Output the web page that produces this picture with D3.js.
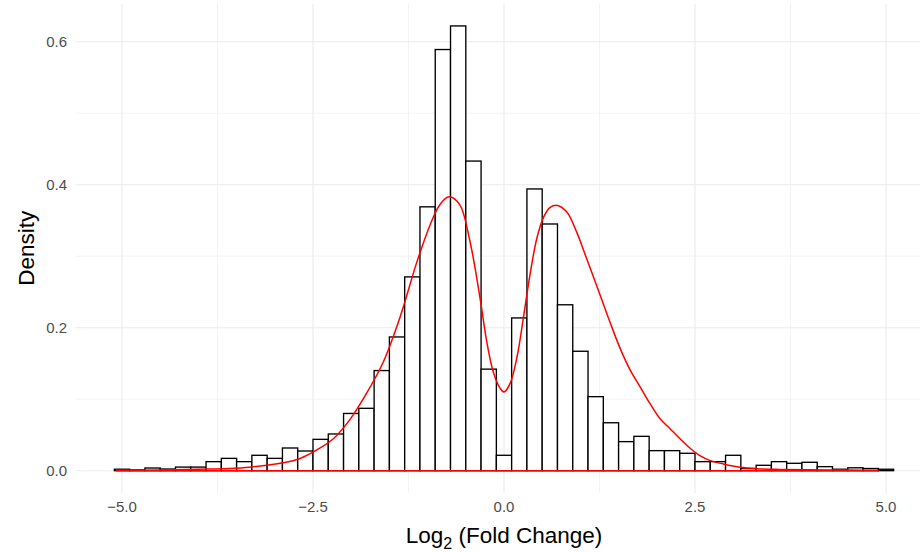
<!DOCTYPE html>
<html lang="en">
<head>
	<meta charset="UTF-8">
	<script src="https://d3js.org/d3.v7.min.js"></script>
	<title>Log2 Fold Change Density</title>
	<style type="text/css">
		body{ margin: 0; background: #fff; }
		text{ font-family: "Liberation Sans", Arial, Helvetica, sans-serif; }
		.grid-major{ stroke: #EBEBEB; stroke-width: 1.07; }
		.grid-minor{ stroke: #EBEBEB; stroke-width: 0.6; }
		.bar{ fill: #fff; stroke: #000; stroke-width: 1.35; }
		.dens{ fill: none; stroke: #FF0000; stroke-width: 1.5; }
		.tick-label{ fill: #4D4D4D; font-size: 15px; }
		.axis-title{ fill: #000; font-size: 22.5px; }
	</style>
</head>
<body onload="main()">
	<svg width="920" height="552"></svg>
</body>
	<script>
	// histogram: bin centres (width 0.2) and density heights
	var binCenters = d3.range(51).map(function(i){ return -5 + i * 0.2; });
	var binWidth = 0.2;
	var binDensity = [
		0.002, 0.001, 0.0037, 0.0023, 0.005, 0.005, 0.0126, 0.0172, 0.0126, 0.0215,
		0.0172, 0.0317, 0.0275, 0.0438, 0.0513, 0.080, 0.0872, 0.140, 0.187, 0.271,
		0.369, 0.589, 0.622, 0.433, 0.142, 0.0215, 0.2136, 0.394, 0.345, 0.232,
		0.167, 0.1035, 0.067, 0.0406, 0.048, 0.028, 0.028, 0.0243, 0.0126, 0.0126,
		0.0215, 0.003, 0.0075, 0.0126, 0.0103, 0.0117, 0.0056, 0.002, 0.004, 0.003,
		0.002
	];

	// kernel density curve
	var densX = [-5.08, -4.5, -4.0, -3.6, -3.33, -2.89, -2.67, -2.45, -2.23, -2.02,
		-1.80, -1.58, -1.36, -1.14, -0.97, -0.84, -0.72, -0.58, -0.45, -0.31,
		-0.23, -0.14, -0.05, 0.0, 0.08, 0.17, 0.25, 0.34, 0.43, 0.52,
		0.60, 0.70, 0.82, 0.95, 1.08, 1.26, 1.39, 1.52, 1.65, 1.78,
		1.91, 2.04, 2.17, 2.30, 2.44, 2.57, 2.70, 2.87, 3.09, 3.31,
		3.6, 4.0, 4.5, 4.9];
	var densY = [0.0005, 0.001, 0.002, 0.003, 0.0048, 0.011, 0.017, 0.029, 0.045, 0.071,
		0.108, 0.152, 0.215, 0.292, 0.343, 0.372, 0.383, 0.372, 0.323, 0.239,
		0.183, 0.138, 0.115, 0.110, 0.122, 0.159, 0.211, 0.274, 0.325, 0.355,
		0.368, 0.371, 0.362, 0.334, 0.297, 0.245, 0.207, 0.171, 0.141, 0.1175,
		0.094, 0.073, 0.059, 0.045, 0.031, 0.0206, 0.014, 0.0094, 0.0048, 0.0028,
		0.0018, 0.0012, 0.0008, 0.0005];

	var xTicks = [-5, -2.5, 0, 2.5, 5];
	var xTickLabels = ["\u22125.0", "\u22122.5", "0.0", "2.5", "5.0"];
	var xMinor = [-3.75, -1.25, 1.25, 3.75];
	var yTicks = [0, 0.2, 0.4, 0.6];
	var yTickLabels = ["0.0", "0.2", "0.4", "0.6"];
	var yMinor = [0.1, 0.3, 0.5];

	function main() {
		var svg = d3.select("svg");

		var xLo = -5.1, xHi = 5.1, xPad = (xHi - xLo) * 0.05;
		var yHi = d3.max(binDensity), yPad = yHi * 0.05;

		var xScale = d3.scaleLinear().domain([xLo - xPad, xHi + xPad]).range([75.4, 932.6]);
		var yScale = d3.scaleLinear().domain([-yPad, yHi + yPad]).range([492.9, 3.7]);

		var x0 = xScale.range()[0], x1 = xScale.range()[1];
		var y0 = yScale.range()[0], y1 = yScale.range()[1];

		var grid = svg.append("g");
		grid.selectAll(".gy-minor").data(yMinor).enter().append("line")
			.attr("class", "grid-minor")
			.attr("x1", x0).attr("x2", x1)
			.attr("y1", function(d){ return yScale(d); })
			.attr("y2", function(d){ return yScale(d); });
		grid.selectAll(".gx-minor").data(xMinor).enter().append("line")
			.attr("class", "grid-minor")
			.attr("y1", y0).attr("y2", y1)
			.attr("x1", function(d){ return xScale(d); })
			.attr("x2", function(d){ return xScale(d); });
		grid.selectAll(".gy-major").data(yTicks).enter().append("line")
			.attr("class", "grid-major")
			.attr("x1", x0).attr("x2", x1)
			.attr("y1", function(d){ return yScale(d); })
			.attr("y2", function(d){ return yScale(d); });
		grid.selectAll(".gx-major").data(xTicks).enter().append("line")
			.attr("class", "grid-major")
			.attr("y1", y0).attr("y2", y1)
			.attr("x1", function(d){ return xScale(d); })
			.attr("x2", function(d){ return xScale(d); });

		// histogram bars
		svg.append("g").selectAll(".bar")
			.data(binCenters)
			.enter().append("rect")
			.attr("class", "bar")
			.attr("x", function(d){ return xScale(d - binWidth / 2); })
			.attr("width", function(d){ return xScale(d + binWidth / 2) - xScale(d - binWidth / 2); })
			.attr("y", function(d, i){ return yScale(binDensity[i]); })
			.attr("height", function(d, i){ return yScale(0) - yScale(binDensity[i]); });

		// density outline (curve plus baseline)
		var pts = densX.map(function(d, i){ return [d, densY[i]]; });
		var line = d3.line()
			.x(function(d){ return xScale(d[0]); })
			.y(function(d){ return yScale(d[1]); })
			.curve(d3.curveCatmullRom.alpha(0.5));
		svg.append("path")
			.attr("class", "dens")
			.attr("d", line(pts));
		svg.append("line")
			.attr("class", "dens")
			.attr("x1", xScale(densX[0])).attr("x2", xScale(densX[densX.length - 1]))
			.attr("y1", yScale(0)).attr("y2", yScale(0));

		// tick labels
		svg.append("g").selectAll("text")
			.data(yTicks).enter().append("text")
			.attr("class", "tick-label")
			.attr("x", 67)
			.attr("y", function(d){ return yScale(d); })
			.attr("dy", "0.35em")
			.attr("text-anchor", "end")
			.text(function(d, i){ return yTickLabels[i]; });

		svg.append("g").selectAll("text")
			.data(xTicks).enter().append("text")
			.attr("class", "tick-label")
			.attr("x", function(d){ return xScale(d); })
			.attr("y", 512)
			.attr("text-anchor", "middle")
			.text(function(d, i){ return xTickLabels[i]; });

		// axis titles
		var xt = svg.append("text")
			.attr("class", "axis-title")
			.attr("x", xScale(0))
			.attr("y", 543)
			.attr("text-anchor", "middle");
		xt.append("tspan").text("Log");
		xt.append("tspan").attr("dy", 6).attr("font-size", "16px").text("2");
		xt.append("tspan").attr("dy", -6).text(" (Fold Change)");

		svg.append("text")
			.attr("class", "axis-title")
			.attr("transform", "translate(34," + ((y0 + y1) / 2) + ") rotate(-90)")
			.attr("text-anchor", "middle")
			.text("Density");
	}
	</script>
</html>
